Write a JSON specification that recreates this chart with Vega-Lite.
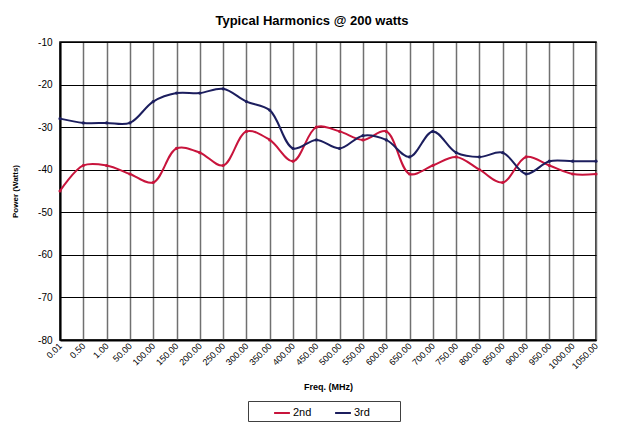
{
  "$schema": "https://vega.github.io/schema/vega-lite/v6.json",
  "autosize": {"type": "none"},
  "width": 536,
  "height": 298,
  "padding": {"left": 60, "top": 42, "right": 24, "bottom": 94},
  "background": "white",
  "config": {
    "font": "Liberation Sans",
    "view": {"stroke": "black", "strokeWidth": 1.5},
    "axis": {"labelFont": "Liberation Sans", "titleFont": "Liberation Sans", "labelColor": "black", "titleColor": "black"}
  },
  "title": {
    "text": "Typical Harmonics @ 200 watts",
    "font": "Liberation Sans",
    "fontSize": 13,
    "fontWeight": "bold",
    "color": "black",
    "offset": 9,
    "dx": -16
  },
  "data": {
    "values": [
      {"freq": "0.01", "series": "2nd", "power": -45},
      {"freq": "0.50", "series": "2nd", "power": -39},
      {"freq": "1.00", "series": "2nd", "power": -39},
      {"freq": "50.00", "series": "2nd", "power": -41},
      {"freq": "100.00", "series": "2nd", "power": -43},
      {"freq": "150.00", "series": "2nd", "power": -35},
      {"freq": "200.00", "series": "2nd", "power": -36},
      {"freq": "250.00", "series": "2nd", "power": -39},
      {"freq": "300.00", "series": "2nd", "power": -31},
      {"freq": "350.00", "series": "2nd", "power": -33},
      {"freq": "400.00", "series": "2nd", "power": -38},
      {"freq": "450.00", "series": "2nd", "power": -30},
      {"freq": "500.00", "series": "2nd", "power": -31},
      {"freq": "550.00", "series": "2nd", "power": -33},
      {"freq": "600.00", "series": "2nd", "power": -31},
      {"freq": "650.00", "series": "2nd", "power": -41},
      {"freq": "700.00", "series": "2nd", "power": -39},
      {"freq": "750.00", "series": "2nd", "power": -37},
      {"freq": "800.00", "series": "2nd", "power": -40},
      {"freq": "850.00", "series": "2nd", "power": -43},
      {"freq": "900.00", "series": "2nd", "power": -37},
      {"freq": "950.00", "series": "2nd", "power": -39},
      {"freq": "1000.00", "series": "2nd", "power": -41},
      {"freq": "1050.00", "series": "2nd", "power": -41},
      {"freq": "0.01", "series": "3rd", "power": -28},
      {"freq": "0.50", "series": "3rd", "power": -29},
      {"freq": "1.00", "series": "3rd", "power": -29},
      {"freq": "50.00", "series": "3rd", "power": -29},
      {"freq": "100.00", "series": "3rd", "power": -24},
      {"freq": "150.00", "series": "3rd", "power": -22},
      {"freq": "200.00", "series": "3rd", "power": -22},
      {"freq": "250.00", "series": "3rd", "power": -21},
      {"freq": "300.00", "series": "3rd", "power": -24},
      {"freq": "350.00", "series": "3rd", "power": -26},
      {"freq": "400.00", "series": "3rd", "power": -35},
      {"freq": "450.00", "series": "3rd", "power": -33},
      {"freq": "500.00", "series": "3rd", "power": -35},
      {"freq": "550.00", "series": "3rd", "power": -32},
      {"freq": "600.00", "series": "3rd", "power": -33},
      {"freq": "650.00", "series": "3rd", "power": -37},
      {"freq": "700.00", "series": "3rd", "power": -31},
      {"freq": "750.00", "series": "3rd", "power": -36},
      {"freq": "800.00", "series": "3rd", "power": -37},
      {"freq": "850.00", "series": "3rd", "power": -36},
      {"freq": "900.00", "series": "3rd", "power": -41},
      {"freq": "950.00", "series": "3rd", "power": -38},
      {"freq": "1000.00", "series": "3rd", "power": -38},
      {"freq": "1050.00", "series": "3rd", "power": -38}
    ]
  },
  "encoding": {
    "x": {
      "field": "freq",
      "type": "ordinal",
      "sort": null,
      "scale": {"type": "point", "padding": 0},
      "axis": {
        "title": "Freq. (MHz)",
        "titleFontSize": 9,
        "titleFontWeight": "bold",
        "titlePadding": 12,
        "titleX": 268,
        "labelAngle": -45,
        "labelAlign": "right",
        "labelBaseline": "middle",
        "labelFontSize": 9,
        "labelPadding": 4,
        "grid": true,
        "gridColor": "#707070",
        "gridWidth": 1.5,
        "domainColor": "black",
        "domainWidth": 2,
        "ticks": false
      }
    },
    "y": {
      "field": "power",
      "type": "quantitative",
      "scale": {"domain": [-80, -10], "nice": false, "zero": false},
      "axis": {
        "title": "Power (Watts)",
        "titleFontSize": 8,
        "titleFontWeight": "bold",
        "titlePadding": 18,
        "values": [-80, -70, -60, -50, -40, -30, -20, -10],
        "labelExpr": "toString(datum.value)",
        "labelFontSize": 10,
        "labelPadding": 8,
        "grid": true,
        "gridColor": "black",
        "gridWidth": 1.2,
        "domainColor": "black",
        "domainWidth": 2,
        "ticks": false
      }
    },
    "color": {
      "field": "series",
      "type": "nominal",
      "scale": {"domain": ["2nd", "3rd"], "range": ["#C8143C", "#1C1E5E"]},
      "legend": {
        "title": null,
        "orient": "none",
        "legendX": 188,
        "legendY": 359,
        "direction": "horizontal",
        "symbolType": "stroke",
        "symbolStrokeWidth": 2,
        "symbolSize": 250,
        "symbolOffset": 22,
        "labelExpr": "datum.label == '3rd' ? '3rd\u00a0\u00a0\u00a0\u00a0\u00a0\u00a0\u2800' : datum.label",
        "labelLimit": 400,
        "labelFontSize": 11,
        "labelOffset": 2,
        "labelColor": "black",
        "strokeColor": "#404040",
        "padding": 3,
        "columnPadding": 0,
        "fillColor": "white"
      }
    }
  },
  "layer": [
    {
      "mark": {"type": "line", "interpolate": "catmull-rom", "strokeWidth": 2}
    },
    {
      "mark": {"type": "point", "filled": true, "size": 10, "color": "#2A1F5E", "opacity": 1}
    }
  ]
}
